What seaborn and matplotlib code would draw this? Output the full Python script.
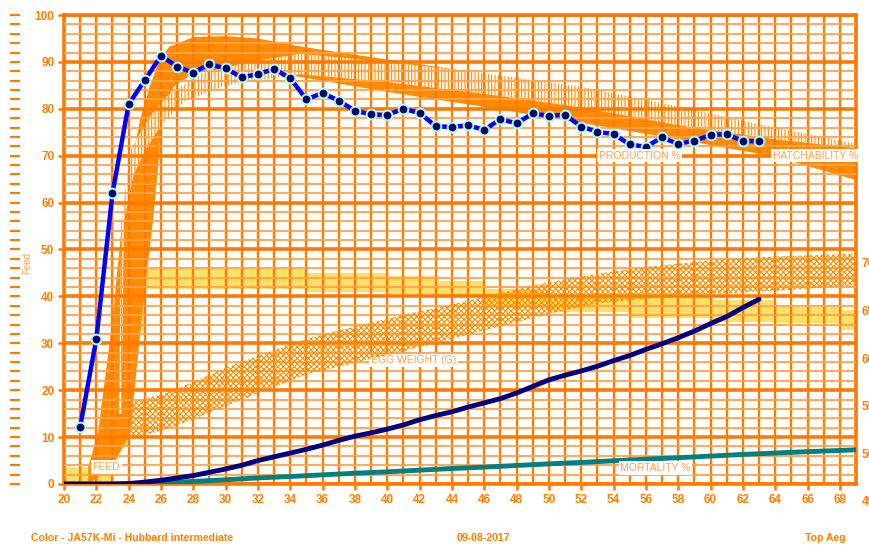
import numpy as np
import matplotlib
matplotlib.use('Agg')
import matplotlib.pyplot as plt
import seaborn as sns

# ---- data ----
# actual production % per week of age
prod_weeks = list(range(21, 64))
prod_pct = [12.2, 30.9, 62.0, 81.0, 86.1, 91.3, 89.0, 87.7, 89.5, 88.6, 86.7, 87.4, 88.5, 86.5,
            82.0, 83.4, 81.7, 79.6, 78.8, 78.7, 80.0, 79.1, 76.3, 76.1, 76.5, 75.5, 77.8, 76.9,
            79.0, 78.5, 78.7, 76.2, 75.1, 74.6, 72.4, 71.9, 73.9, 72.5, 73.2, 74.4, 74.6, 73.1, 73.1]

# cumulative line (dark blue)
cum_weeks = list(range(20, 64))
cum_vals = [0, 0, 0, 0, 0.1, 0.4, 0.8, 1.3, 1.8, 2.5, 3.2, 4.0, 5.0, 5.8, 6.6, 7.4, 8.3, 9.3,
            10.2, 10.9, 11.7, 12.6, 13.7, 14.6, 15.4, 16.4, 17.3, 18.2, 19.4, 20.8, 22.2, 23.2,
            24.1, 25.1, 26.3, 27.4, 28.7, 29.9, 31.2, 32.6, 34.2, 35.7, 37.6, 39.4]

# mortality %
mort_weeks = [20, 24, 26, 28, 30, 32, 34, 36, 38, 40, 42, 44, 46, 48, 50, 52, 54, 56, 58, 60,
              62, 64, 66, 68, 69]
mort_vals = [0, 0, 0.2, 0.55, 0.9, 1.3, 1.6, 1.95, 2.3, 2.6, 2.95, 3.3, 3.6, 3.95, 4.3, 4.6,
             4.95, 5.3, 5.6, 5.95, 6.3, 6.6, 6.9, 7.15, 7.3]

# production standard band (solid)
prod_std_top_x = [21.5, 22.1, 23.0, 23.6, 24.2, 24.7, 25.3, 25.9, 26.5, 28, 30, 32, 34.6, 40, 46, 52, 58, 64, 69]
prod_std_top_y = [3.7, 10.8, 35, 56, 68.4, 77.6, 84.7, 90.4, 93.2, 95.3, 95.5, 95, 93.3, 90.5, 87.5, 84, 80, 75.5, 71.9]
prod_std_bot_x = [21.5, 23.0, 24.1, 24.8, 25.5, 25.9, 26.0, 26.8, 28, 30, 32, 34.6, 40, 46, 52, 58, 64, 69]
prod_std_bot_y = [0, 3.7, 10.8, 35, 56, 70.6, 79, 84.7, 87.6, 88.3, 88, 86.8, 83.6, 80.4, 77, 73.5, 69.8, 64.8]

# hatchability standard band (dotted)
hatch_top_x = [23.4, 23.55, 24.1, 25.3, 26.35, 28.4, 31.5, 34.6, 40, 46, 52, 58, 64, 69]
hatch_top_y = [15, 56, 71, 78.3, 82.6, 87.5, 90, 91.7, 90, 87.6, 84.7, 80.5, 76.0, 72.6]
hatch_bot_x = [23.55, 23.7, 24.3, 25.0, 25.9, 27.4, 30, 34.6, 40, 46, 52, 58, 64, 69]
hatch_bot_y = [15, 56, 66, 71, 76, 81.5, 85, 87.4, 85.7, 83.2, 80.3, 76.5, 73.5, 71.6]

# egg weight standard band (g, right axis)
egg_weeks = [24, 26, 28, 30, 32, 35, 38, 41, 44, 47, 50, 53, 56, 60, 64, 69]
egg_top = [55.3, 56.2, 57.5, 59.0, 60.2, 62.0, 63.3, 64.5, 65.6, 66.8, 67.9, 68.8, 69.5, 70.2, 70.6, 70.9]
egg_bot = [51.5, 52.4, 53.6, 55.0, 56.3, 58.3, 59.5, 60.7, 62.0, 63.3, 64.6, 65.7, 66.2, 66.7, 67.0, 67.6]

# feed standard (steps)
feed_weeks = [20, 23, 24, 25, 35, 40, 43, 46, 50, 55, 60, 64, 68, 69]
feed_low = [0, 8, 32.5, 41.5, 41, 40.5, 40, 37.5, 36.7, 35.5, 34.6, 34.3, 32.8, 32.8]
feed_high = [3.7, 12, 37, 46, 45, 44.3, 43.2, 41.5, 40, 40, 39.2, 37.8, 37.1, 37.1]

x_ticks = list(range(20, 69, 2))
y_ticks = list(range(0, 101, 10))
egg_ticks = [50, 55, 60, 65, 70]

ORANGE = '#FF7A00'
BAND = '#FF8C00'
LIGHT = '#FFA24D'
TXT = '#FF8000'
PX = 72 / 100  # points per pixel

sns.set_theme(style='white')
plt.rcParams['font.family'] = ['Liberation Sans', 'DejaVu Sans']
plt.rcParams['hatch.linewidth'] = 0.8

fig = plt.figure(figsize=(8.69, 5.51), dpi=100)
ax = fig.add_axes([64 / 869, 67 / 551, 792 / 869, 469 / 551])
ax.set_xlim(20, 69)
ax.set_ylim(0, 100)

# standard bands
ax.fill_between(feed_weeks, feed_low, feed_high, step='post', color='#FFE066', lw=0, zorder=1)
ax.fill(prod_std_top_x + prod_std_bot_x[::-1], prod_std_top_y + prod_std_bot_y[::-1],
        color=BAND, lw=0, zorder=1.2)
ax.fill(hatch_top_x + hatch_bot_x[::-1], hatch_top_y + hatch_bot_y[::-1],
        facecolor='white', edgecolor=BAND, hatch='|||||', lw=0, zorder=1.4)

# grid
ax.set_xticks(x_ticks)
ax.set_xticks([w for w in range(21, 70, 2)], minor=True)
ax.set_yticks(y_ticks)
ax.set_yticks([v for v in range(0, 101, 2) if v % 10], minor=True)
ax.set_axisbelow(False)
ax.grid(which='both', axis='x', color=ORANGE, lw=1.7)
ax.grid(which='major', axis='y', color=ORANGE, lw=2.6)
ax.grid(which='minor', axis='y', color=LIGHT, lw=1.3)
for s in ax.spines.values():
    s.set_color(ORANGE)
    s.set_linewidth(2.6)
ax.tick_params(axis='both', which='major', colors=ORANGE, length=4, width=1.8,
               labelcolor=TXT, labelsize=8.5, pad=3)
ax.tick_params(axis='both', which='minor', length=0)
ax.tick_params(axis='y', left=True)
ax.tick_params(axis='x', bottom=True)
for lab in ax.get_xticklabels() + ax.get_yticklabels():
    lab.set_fontweight('bold')

# lines
sns.lineplot(x=mort_weeks, y=mort_vals, color='#008080', lw=3.5, ax=ax, zorder=4)
sns.lineplot(x=cum_weeks, y=cum_vals, color='#000080', lw=3.5, ax=ax, zorder=4)
sns.lineplot(x=prod_weeks, y=prod_pct, color='#0000FF', lw=3.2, marker='o', markersize=7,
             markerfacecolor='#000066', markeredgecolor='#A8FFFF', markeredgewidth=1.4,
             ax=ax, zorder=5)
ax.set_xlabel('')
ax.set_ylabel('')

# series labels
lbl = dict(color=LIGHT, fontsize=7.5, va='center', zorder=6,
           bbox=dict(facecolor='white', edgecolor='none', pad=1.2))
ax.text(55.6, 70, 'PRODUCTION %', ha='center', **lbl)
ax.text(66.5, 70, 'HATCHABILITY %', ha='center', **lbl)
ax.text(56.6, 3.4, 'MORTALITY %', ha='center', **lbl)
ax.text(39.0, 26.4, 'EGG WEIGHT (G)', ha='left', **lbl)
ax.text(22.6, 3.6, 'FEED', ha='center', **lbl)

# egg weight axis (right)
ax2 = ax.twinx()
ax2.set_ylim(46.85, 95.8)
ax2.fill_between(egg_weeks, egg_bot, egg_top, facecolor='none', edgecolor=BAND,
                 hatch='xxxxxx', lw=0, zorder=1)
ax2.set_yticks(egg_ticks)
ax2.tick_params(axis='y', length=0, pad=4, labelcolor=TXT, labelsize=8.5, right=True)
for lab in ax2.get_yticklabels():
    lab.set_fontweight('bold')
ax2.annotate('45', xy=(1, 45), xycoords=('axes fraction', 'data'), xytext=(4, 0),
             textcoords='offset points', va='center', ha='left', color=TXT,
             fontsize=8.5, fontweight='bold', annotation_clip=False)
for s in ax2.spines.values():
    s.set_visible(False)
ax2.grid(False)

# feed axis (ticks only, far left)
ax3 = ax.twinx()
ax3.set_ylim(0, 100)
ax3.yaxis.set_ticks_position('left')
ax3.spines['left'].set_position(('outward', 44 * PX))
for s in ax3.spines.values():
    s.set_visible(False)
ax3.set_yticks(list(range(0, 101, 2)))
ax3.tick_params(axis='y', length=10 * PX, width=1.5, colors=ORANGE, labelleft=False,
                labelright=False, left=True, right=False)
ax3.grid(False)
fig.text(27 / 869, 1 - 263 / 551, 'Feed', rotation=90, color=LIGHT, fontsize=7,
         ha='center', va='center')

# footer
foot = dict(color=TXT, fontsize=7.6, fontweight='bold', va='center',
            family=['Liberation Sans Narrow', 'Liberation Sans'])
fig.text(31 / 869, 1 - 538 / 551, 'Color - JA57K-Mi - Hubbard intermediate', ha='left', **foot)
fig.text(483 / 869, 1 - 538 / 551, '09-08-2017', ha='center', **foot)
fig.text(846 / 869, 1 - 538 / 551, 'Top Aeg', ha='right', **foot)

fig.savefig('out.png', dpi=100, facecolor='white')
